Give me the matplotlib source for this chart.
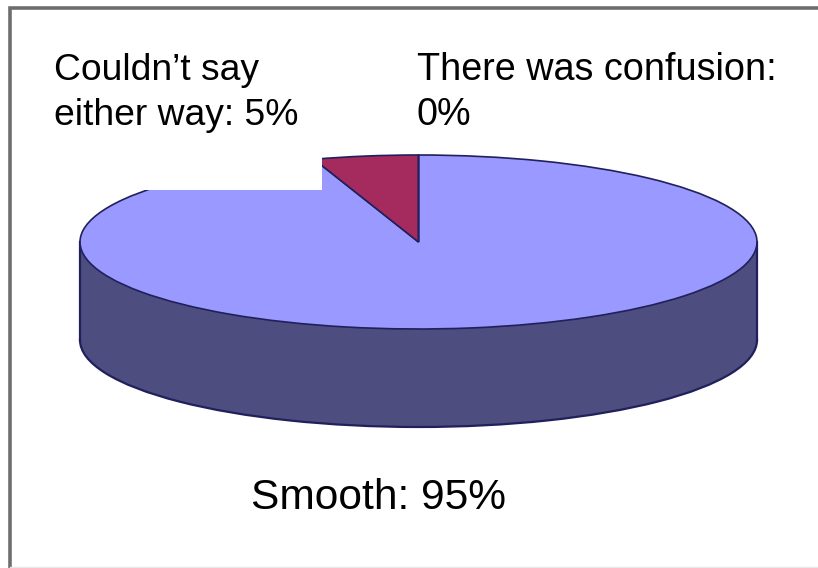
import matplotlib
matplotlib.use("Agg")
import matplotlib.pyplot as plt
from matplotlib.patches import Rectangle

categories = ["Smooth", "Couldn't say\neither way", "There was confusion"]
values = [95, 5, 0]
top_colors = ["#9999ff", "#a52a5e", "#ffffcc"]
side_colors = ["#4d4d80", "#5a1f40", "#808066"]

W, H = 818, 568
plt.rcParams["font.family"] = ["Liberation Sans", "DejaVu Sans"]
fig = plt.figure(figsize=(W / 100, H / 100), dpi=100, facecolor="white")

def axes_px(x0, y0, x1, y1, **kw):
    return fig.add_axes([x0 / W, 1 - y1 / H, (x1 - x0) / W, (y1 - y0) / H], **kw)

# Pie axes spans the top ellipse exactly; the disc is squashed by aspect="auto".
cx0, cx1, cy0, cy1 = 80, 757, 155, 329
depth = 98 / ((cy1 - cy0) / 2)
ax = axes_px(cx0, cy0, cx1, cy1)
edge = "#20205c"

# Side wall of the disc
side, _ = ax.pie([sum(values)], colors=[side_colors[0]], center=(0, -depth), radius=1,
                 wedgeprops=dict(edgecolor=edge, linewidth=1.6))
ax.add_patch(Rectangle((-1, -depth), 2, depth, facecolor=side_colors[0],
                       edgecolor="none", clip_on=False, zorder=1.5))
ax.plot([-1, -1], [0, -depth], color=edge, lw=1.6, clip_on=False, zorder=1.6)
ax.plot([1, 1], [0, -depth], color=edge, lw=1.6, clip_on=False, zorder=1.6)

# Top face: first slice runs clockwise from 12 o'clock
top, _ = ax.pie(values, colors=top_colors, startangle=90, counterclock=False, radius=1,
                wedgeprops=dict(edgecolor=edge, linewidth=1.2))
ax.set_aspect("auto")
ax.set_xlim(-1, 1)
ax.set_ylim(-1, 1)
for p in side:
    p.set_clip_on(False)
    p.set_zorder(1)
for p in top:
    p.set_clip_on(False)
    p.set_zorder(2)
ax.axis("off")

# Overlay in pixel coordinates: frame, white label box and labels
ov = axes_px(0, 0, W, H, facecolor="none")
ov.set_xlim(0, W)
ov.set_ylim(H, 0)
ov.axis("off")
ov.add_patch(Rectangle((70, 30), 252, 160, facecolor="white", edgecolor="none"))
ov.plot([10, 10, 818], [568, 8, 8], color="#6e6e6e", lw=2.6, solid_joinstyle="miter")
ov.plot([10, 818], [566.5, 566.5], color="#e8e8e8", lw=1)

ov.text(54, 80, "Couldn\u2019t say", fontsize=26.8, color="black", va="baseline", ha="left")
ov.text(54, 125, f"either way: {values[1]}%", fontsize=26.8, color="black", va="baseline", ha="left")
ov.text(417, 80, "There was confusion:", fontsize=27.2, color="black", va="baseline", ha="left")
ov.text(417, 125, f"{values[2]}%", fontsize=27.2, color="black", va="baseline", ha="left")
ov.text(251, 509, f"Smooth: {values[0]}%", fontsize=30.6, color="black", va="baseline", ha="left")

fig.savefig("out.png", dpi=100, facecolor="white")
